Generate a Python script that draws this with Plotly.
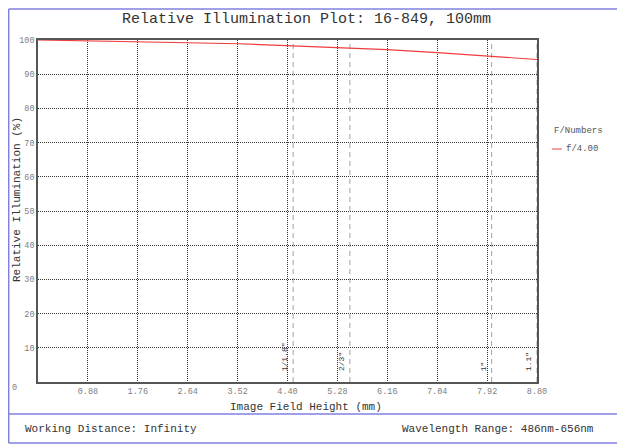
import plotly.graph_objects as go

# Data
field_height = [0.0, 0.88, 1.76, 2.64, 3.52, 4.40, 5.28, 6.16, 7.04, 7.92, 8.80]
rel_illum = [100.0, 99.8, 99.5, 99.2, 98.9, 98.4, 97.9, 97.2, 96.3, 95.4, 94.3]
x_ticks = [0.88, 1.76, 2.64, 3.52, 4.40, 5.28, 6.16, 7.04, 7.92, 8.80]
x_tick_labels = ["0.88", "1.76", "2.64", "3.52", "4.40", "5.28", "6.16", "7.04", "7.92", "8.80"]
y_ticks = [10, 20, 30, 40, 50, 60, 70, 80, 90, 100]
sensor_names = ['1/1.8"', '2/3"', '1"', '1.1"']
sensor_half_diag = [4.5, 5.5, 8.0, 8.8]
series_name = "f/4.00"

# Page body has a default 8px margin; work in window pixels and shift.
OFF = 8
W, H = 625 - OFF, 445 - OFF
L, R, T, B = 38, 537, 40, 382  # plot area in window pixels
pw, ph = R - L, B - T


def px(xp):
    return (xp - L) / pw


def py(yp):
    return (B - yp) / ph


FONT = "Liberation Mono, Courier New, monospace"
RED = "#f03c3c"

fig = go.Figure()
fig.add_trace(go.Scatter(
    x=field_height, y=rel_illum, mode="lines", name=series_name,
    line=dict(color=RED, width=1.2), showlegend=False,
))

shapes = []
annotations = []
for name, xv in zip(sensor_names, sensor_half_diag):
    shapes.append(dict(type="line", xref="x", yref="y", x0=xv, x1=xv, y0=0, y1=100,
                       line=dict(color="#a0a0a0", width=1, dash="5px,4px"), layer="below"))
    annotations.append(dict(x=xv, y=2.6, xref="x", yref="y", text=name, textangle=-90,
                            showarrow=False, xanchor="right", yanchor="bottom", xshift=-2,
                            font=dict(family=FONT, size=8, color="#333333")))

border = dict(color="#8080e0", width=1.5)
shapes += [
    dict(type="line", xref="paper", yref="paper", x0=px(8.7), x1=px(640), y0=py(9), y1=py(9), line=border),
    dict(type="line", xref="paper", yref="paper", x0=px(8.7), x1=px(8.7), y0=py(9), y1=py(443), line=border),
    dict(type="line", xref="paper", yref="paper", x0=px(8.7), x1=px(640), y0=py(414), y1=py(414), line=border),
    dict(type="line", xref="paper", yref="paper", x0=px(8.7), x1=px(640), y0=py(443), y1=py(443), line=border),
    # legend sample line
    dict(type="line", xref="paper", yref="paper", x0=px(552), x1=px(562), y0=py(149), y1=py(149),
         line=dict(color="#f08080", width=1.5)),
]

annotations += [
    dict(x=px(306), y=py(20), xref="paper", yref="paper", text="Relative Illumination Plot: 16-849, 100mm",
         showarrow=False, xanchor="center", yanchor="middle",
         font=dict(family=FONT, size=15, color="#333333")),
    dict(x=px(306), y=py(407), xref="paper", yref="paper", text="Image Field Height (mm)",
         showarrow=False, xanchor="center", yanchor="middle",
         font=dict(family=FONT, size=11, color="#333333")),
    dict(x=px(17), y=py(200), xref="paper", yref="paper", text="Relative Illumination (%)",
         showarrow=False, xanchor="center", yanchor="middle", textangle=-90,
         font=dict(family=FONT, size=11, color="#333333")),
    dict(x=px(14), y=py(388), xref="paper", yref="paper", text="0",
         showarrow=False, xanchor="center", yanchor="middle",
         font=dict(family=FONT, size=8.5, color="#808080")),
    dict(x=px(23), y=py(429), xref="paper", yref="paper", text="Working Distance: Infinity",
         showarrow=False, xanchor="left", yanchor="middle",
         font=dict(family=FONT, size=11, color="#333333")),
    dict(x=px(400), y=py(429), xref="paper", yref="paper", text="Wavelength Range: 486nm-656nm",
         showarrow=False, xanchor="left", yanchor="middle",
         font=dict(family=FONT, size=11, color="#333333")),
    dict(x=px(552), y=py(131), xref="paper", yref="paper", text="F/Numbers",
         showarrow=False, xanchor="left", yanchor="middle",
         font=dict(family=FONT, size=9, color="#555555")),
    dict(x=px(564), y=py(149), xref="paper", yref="paper", text=series_name,
         showarrow=False, xanchor="left", yanchor="middle",
         font=dict(family=FONT, size=9, color="#555555")),
]

fig.update_layout(
    width=W, height=H,
    margin=dict(l=L - OFF, r=W - (R - OFF), t=T - OFF, b=H - (B - OFF), pad=0, autoexpand=False),
    paper_bgcolor="white", plot_bgcolor="white",
    showlegend=False,
    shapes=shapes, annotations=annotations,
    xaxis=dict(range=[0, 8.8], tickvals=x_ticks, ticktext=x_tick_labels,
               showgrid=True, gridcolor="#333333", griddash="1px,1px", gridwidth=1,
               showline=True, linecolor="#555555", linewidth=1.5, mirror=True,
               ticks="", ticklen=0, zeroline=False, automargin=False,
               tickfont=dict(family=FONT, size=8.5, color="#808080")),
    yaxis=dict(range=[0, 100], tickvals=y_ticks, ticktext=[str(v) for v in y_ticks],
               showgrid=True, gridcolor="#333333", griddash="1px,1px", gridwidth=1,
               showline=True, linecolor="#555555", linewidth=1.5, mirror=True,
               ticks="", ticklen=0, zeroline=False, automargin=False,
               tickfont=dict(family=FONT, size=8.5, color="#808080")),
)

fig.write_html("out.html")
